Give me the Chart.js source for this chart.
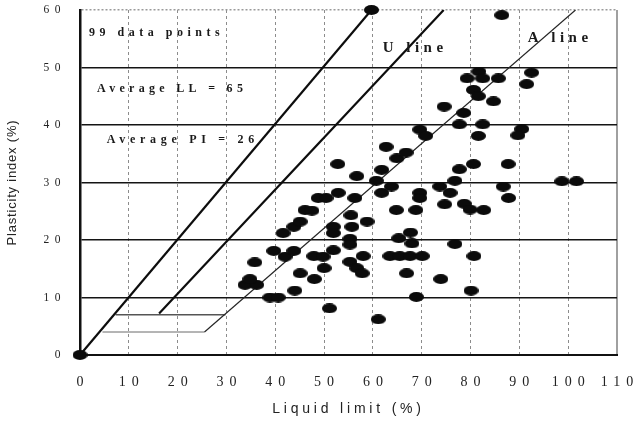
<!DOCTYPE html>
<html>
<head>
<meta charset="utf-8">
<script src="https://cdn.jsdelivr.net/npm/chart.js@4/dist/chart.umd.min.js"></script>
<style>
html,body{margin:0;padding:0;background:#fff;}
canvas{display:block;}
</style>
</head>
<body>
<canvas id="chart" width="636" height="423"></canvas>
<script>
// ---- Data ----
const xTickValues = [0, 10, 20, 30, 40, 50, 60, 70, 80, 90, 100, 110];
const yTickValues = [0, 10, 20, 30, 40, 50, 60];
const xTitle = 'Liquid limit (%)';
const yTitle = 'Plasticity index (%)';

// 99 soil samples: liquid limit (LL, %) and plasticity index (PI, %)
const liquidLimit = [
  33.8, 36.2, 34.8, 35.8, 38.9, 40.6, 39.7, 42.0, 43.8, 41.6,
  43.8, 45.1, 46.1, 47.5, 45.1, 44.0, 48.0, 47.9, 49.8, 50.0,
  51.1, 48.8, 50.4, 51.9, 51.9, 51.9, 52.8, 52.9, 55.5, 55.7,
  55.3, 55.3, 55.3, 56.7, 57.8, 58.0, 58.8, 56.7, 56.3, 61.1,
  60.7, 61.8, 61.8, 63.8, 62.7, 64.9, 66.8, 64.8, 68.8, 67.7,
  65.3, 68.0, 63.5, 65.5, 67.6, 70.1, 66.9, 68.9, 69.6, 69.6,
  69.6, 70.8, 73.9, 76.8, 73.7, 75.8, 76.8, 77.7, 74.7, 78.7,
  79.9, 82.7, 80.1, 80.7, 80.6, 74.6, 78.6, 77.7, 82.5, 81.6,
  80.6, 81.6, 84.7, 81.7, 79.3, 82.5, 85.7, 92.5, 91.5, 86.4,
  90.5, 89.7, 87.7, 86.7, 87.8, 98.7, 101.7, 0.0, 59.7
];
const plasticityIndex = [
  12.2, 12.2, 13.2, 16.1, 10.0, 10.0, 18.1, 17.1, 18.1, 21.2,
  22.3, 23.2, 25.2, 25.1, 14.2, 11.2, 13.2, 17.2, 17.1, 15.1,
  8.1, 27.3, 27.3, 18.2, 22.3, 21.2, 33.2, 28.2, 24.3, 22.3,
  20.2, 19.2, 16.2, 15.1, 14.2, 17.2, 23.2, 31.1, 27.3, 6.2,
  30.3, 32.2, 28.2, 29.3, 36.2, 34.2, 35.2, 25.2, 25.2, 21.3,
  20.3, 19.4, 17.2, 17.2, 17.2, 17.2, 14.2, 10.1, 28.2, 27.3,
  39.2, 38.1, 13.2, 19.3, 29.3, 28.2, 30.3, 32.3, 26.2, 26.3,
  25.3, 25.2, 11.2, 17.2, 33.2, 43.2, 42.1, 40.1, 40.1, 38.1,
  46.1, 45.0, 44.1, 49.3, 48.1, 48.1, 48.1, 49.1, 47.1, 59.1,
  39.3, 38.2, 33.2, 29.3, 27.3, 30.2, 30.2, 0.0, 60.0
];

// Reference lines of the plasticity chart
const upperLineLL = [0, 59.7];
const upperLinePI = [0, 60];
const uLineLL = [16.2, 74.5];
const uLinePI = [7.2, 60];
const aLineLL = [25.5, 101.5];
const aLinePI = [4, 60];
const band7LL = [7.3, 29.8];
const band7PI = [7, 7];
const band4LL = [4.6, 25.5];
const band4PI = [4, 4];

// Text notes placed on the chart (data coordinates)
const notes = [
  { text: '99 data points',  ll: 1.85, pi: 56.0, font: 'bold 12px "Liberation Serif"', ls: '4.5px' },
  { text: 'Average LL = 65', ll: 3.5,  pi: 46.3, font: 'bold 12px "Liberation Serif"', ls: '4.3px' },
  { text: 'Average PI = 26', ll: 5.5,  pi: 37.4, font: 'bold 12px "Liberation Serif"', ls: '4.7px' },
  { text: 'U line',          ll: 62.0, pi: 53.4, font: 'bold 15px "Liberation Serif"', ls: '4.5px' },
  { text: 'A line',          ll: 91.7, pi: 55.1, font: 'bold 15px "Liberation Serif"', ls: '4.5px' }
];

// ---- helpers ----
const toPoints = (xs, ys) => xs.map((v, i) => ({ x: v, y: ys[i] }));

const dot = document.createElement('canvas');
dot.width = 15; dot.height = 10;
(function () {
  const c = dot.getContext('2d');
  c.fillStyle = '#0b0b0b';
  c.beginPath();
  c.ellipse(7.5, 5, 7.5, 5, 0, 0, Math.PI * 2);
  c.fill();
})();

const spacing = {
  x: { ticks: '6px', title: '3.8px' },
  y: { ticks: '5.5px', title: '0.8px' }
};
const letterSpacingPlugin = {
  id: 'letterSpacing',
  beforeDraw(chart) {
    Object.keys(chart.scales).forEach(id => {
      const s = chart.scales[id];
      const cfg = spacing[id];
      if (!cfg || s.__lsWrapped) return;
      s.__lsWrapped = true;
      const dl = s.drawLabels, dt = s.drawTitle;
      s.drawLabels = function (area) {
        const c = this.ctx, prev = c.letterSpacing || '0px';
        c.letterSpacing = cfg.ticks; dl.call(this, area); c.letterSpacing = prev;
      };
      s.drawTitle = function () {
        const c = this.ctx, prev = c.letterSpacing || '0px';
        c.letterSpacing = cfg.title; dt.call(this); c.letterSpacing = prev;
      };
    });
  }
};

const notesPlugin = {
  id: 'notes',
  afterDatasetsDraw(chart) {
    const { ctx, scales: { x, y } } = chart;
    ctx.save();
    ctx.fillStyle = '#1a1a1a';
    ctx.textAlign = 'left';
    ctx.textBaseline = 'middle';
    notes.forEach(n => {
      ctx.font = n.font;
      ctx.letterSpacing = n.ls;
      ctx.fillText(n.text, x.getPixelForValue(n.ll), y.getPixelForValue(n.pi));
    });
    ctx.restore();
  }
};

const lineDs = (label, xs, ys, color, width) => ({
  label, data: toPoints(xs, ys), showLine: true, pointRadius: 0,
  borderColor: color, borderWidth: width, backgroundColor: color,
  fill: false, tension: 0, order: 1
});

new Chart(document.getElementById('chart'), {
  type: 'scatter',
  data: {
    datasets: [
      {
        label: 'Samples', data: toPoints(liquidLimit, plasticityIndex),
        pointStyle: dot, pointRadius: 8, clip: false, order: 0
      },
      lineDs('PI = LL', upperLineLL, upperLinePI, '#0d0d0d', 2.2),
      lineDs('U line', uLineLL, uLinePI, '#0d0d0d', 2.2),
      lineDs('A line', aLineLL, aLinePI, '#262626', 1.2),
      lineDs('PI = 7', band7LL, band7PI, '#555', 1.6),
      lineDs('PI = 4', band4LL, band4PI, '#6a6a6a', 1)
    ]
  },
  options: {
    responsive: false,
    animation: false,
    events: [],
    layout: { padding: { top: 10, right: 19, bottom: 0, left: 0 } },
    plugins: { legend: { display: false }, tooltip: { enabled: false } },
    scales: {
      x: {
        type: 'linear', min: 0, max: 110,
        afterBuildTicks: s => { s.ticks = xTickValues.map(v => ({ value: v })); },
        afterFit: s => { s.height = 68; s.paddingLeft = 0; s.paddingRight = 0; },
        grid: {
          drawTicks: false,
          color: c => { const v = c.tick ? c.tick.value : -1; return v === 0 ? 'rgba(0,0,0,0)' : (v === 110 ? '#a0a0a0' : '#8c8c8c'); },
          lineWidth: c => (c.tick && c.tick.value === 110) ? 2 : 1
        },
        border: {
          display: true, color: '#111', width: 2,
          dash: c => (c.tick && c.tick.value > 0 && c.tick.value < 110) ? [3, 3] : []
        },
        ticks: {
          padding: 19, labelOffset: 3, color: '#222', maxRotation: 0, autoSkip: false,
          font: { family: '"Liberation Serif", serif', size: 14 }
        },
        title: {
          display: true, text: xTitle, color: '#222',
          font: { family: '"Liberation Sans", sans-serif', size: 14 },
          padding: { top: 0, bottom: 5 }
        }
      },
      y: {
        type: 'linear', min: 0, max: 60,
        afterBuildTicks: s => { s.ticks = yTickValues.map(v => ({ value: v })); },
        afterFit: s => { s.width = 80; s.paddingTop = 0; s.paddingBottom = 0; },
        grid: {
          drawTicks: false,
          color: c => { const v = c.tick ? c.tick.value : -1; return v === 0 ? 'rgba(0,0,0,0)' : (v === 60 ? '#9a9a9a' : '#141414'); },
          lineWidth: c => (c.tick && c.tick.value === 60) ? 1.5 : 1.4
        },
        border: {
          display: true, color: '#111', width: 2.5,
          dash: c => (c.tick && c.tick.value === 60) ? [2, 2] : []
        },
        ticks: {
          padding: 14, color: '#222',
          font: { family: '"Liberation Serif", serif', size: 11.5 }
        },
        title: {
          display: true, text: yTitle, color: '#222',
          font: { family: '"Liberation Sans", sans-serif', size: 13 },
          padding: { top: 5, bottom: 0 }
        }
      }
    }
  },
  plugins: [letterSpacingPlugin, notesPlugin]
});
</script>
</body>
</html>
